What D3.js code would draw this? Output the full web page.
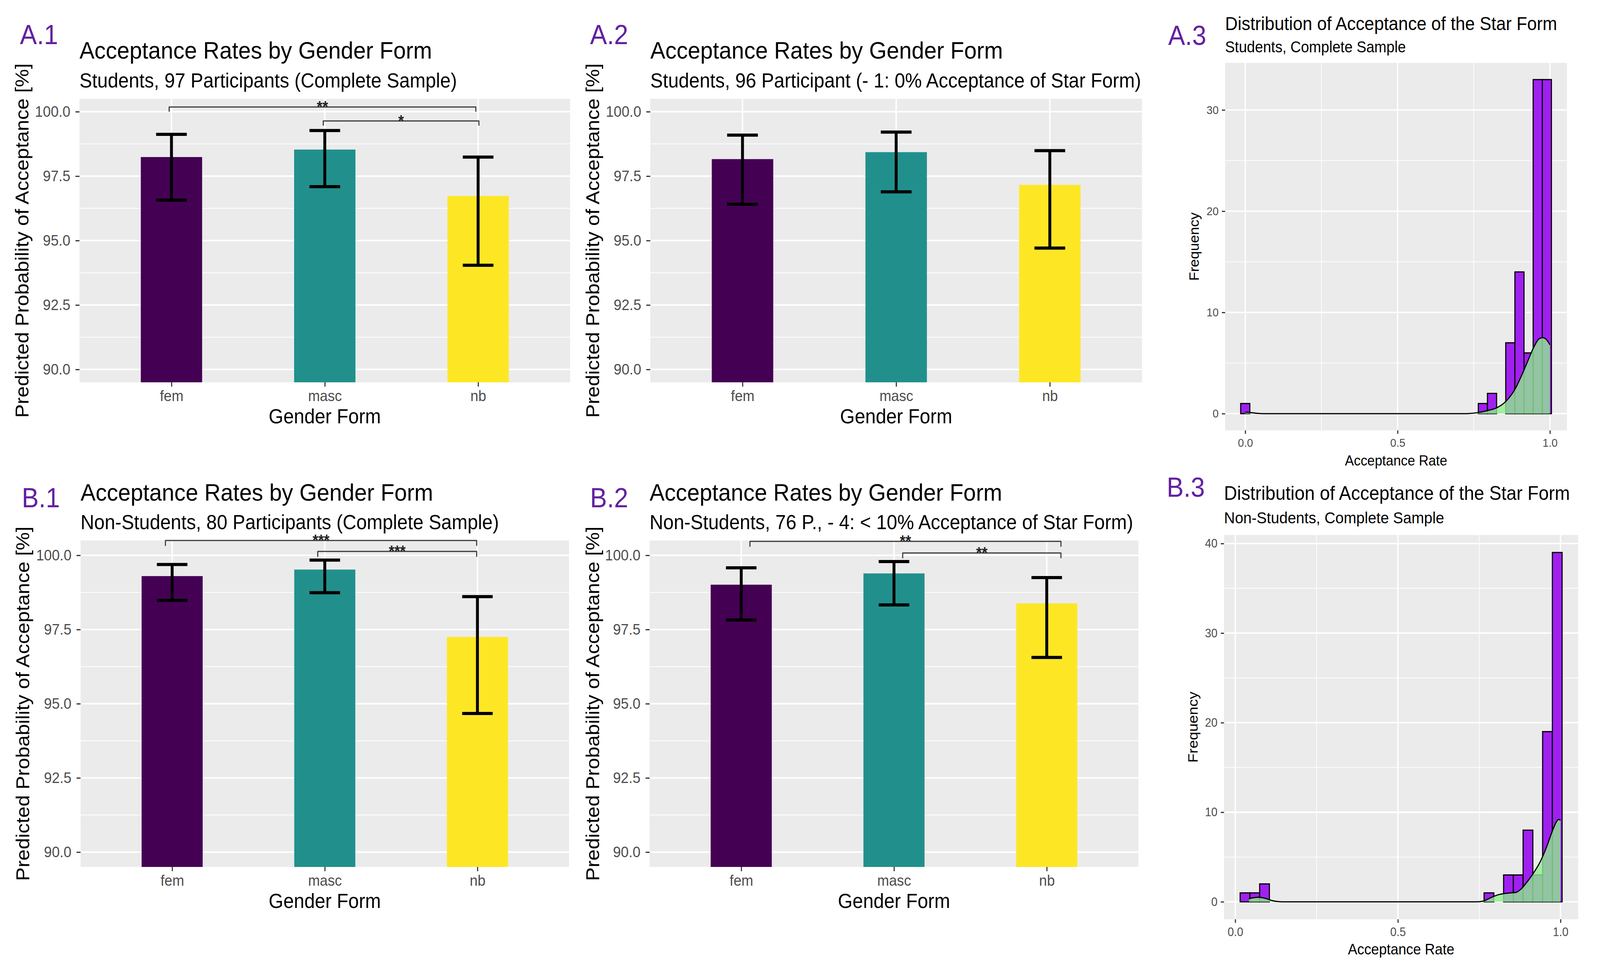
<!DOCTYPE html>
<meta charset="utf-8">
<style>
  html, body { margin: 0; padding: 0; overflow: hidden; background: #fff; }
  svg { display: block; width: 100vw; height: 100vh; }
  svg text { font-family: "Liberation Sans", Arial, sans-serif; }
</style>
<body>
<script src="https://cdn.jsdelivr.net/npm/d3@7/dist/d3.min.js"></script>
<script>
  // ---------- data ----------
  var genderForms = ["fem", "masc", "nb"];
  var barTicks = [90, 92.5, 95, 97.5, 100];

  // A.1 students, complete sample
  var a1Rate = [98.24, 98.53, 96.73];
  var a1Low  = [96.57, 97.09, 94.04];
  var a1High = [99.12, 99.27, 98.24];
  var a1Signif = [
    {from: 0.985, to: 2.985, y: 100.18, label: "**"},
    {from: 1.99,  to: 3.005, y: 99.64,  label: "*"}
  ];

  // A.2 students without the 0% participant
  var a2Rate = [98.16, 98.43, 97.16];
  var a2Low  = [96.41, 96.89, 94.71];
  var a2High = [99.09, 99.21, 98.49];

  // B.1 non-students, complete sample
  var b1Rate = [99.30, 99.52, 97.25];
  var b1Low  = [98.48, 98.74, 94.67];
  var b1High = [99.69, 99.84, 98.61];
  var b1Signif = [
    {from: 0.956, to: 2.995, y: 100.50, label: "***"},
    {from: 1.954, to: 2.995, y: 100.13, label: "***"}
  ];

  // B.2 non-students, reduced sample
  var b2Rate = [99.01, 99.39, 98.38];
  var b2Low  = [97.82, 98.33, 96.56];
  var b2High = [99.58, 99.79, 99.25];
  var b2Signif = [
    {from: 1.057, to: 3.093, y: 100.47, label: "**"},
    {from: 2.057, to: 3.093, y: 100.08, label: "**"}
  ];

  // histograms (bin centres, counts) and density curves
  var binWidth = 0.03;
  var rateTicks = [0, 0.5, 1];

  var a3Bins   = [0, 0.78, 0.81, 0.87, 0.90, 0.93, 0.96, 0.99];
  var a3Counts = [1, 1, 2, 7, 14, 6, 33, 33];
  var a3FreqTicks = [0, 10, 20, 30];
  var a3Density = [
    [0, 0.15], [0.02, 0.1], [0.04, 0.03], [0.06, 0], [0.72, 0], [0.736, 0.02],
    [0.763, 0.1], [0.795, 0.3], [0.827, 0.6], [0.855, 1.2], [0.887, 2.5],
    [0.906, 3.7], [0.926, 5.1], [0.946, 6.5], [0.965, 7.4], [0.977, 7.5],
    [0.989, 7.3], [1.0, 6.8]
  ];

  var b3Bins   = [0.03, 0.06, 0.09, 0.78, 0.84, 0.87, 0.90, 0.93, 0.96, 0.99];
  var b3Counts = [1, 1, 2, 1, 3, 3, 8, 3, 19, 39];
  var b3FreqTicks = [0, 10, 20, 30, 40];
  var b3Density = [
    [0.042, 0.35], [0.055, 0.45], [0.07, 0.5], [0.085, 0.45], [0.10, 0.3],
    [0.115, 0.12], [0.13, 0.03], [0.145, 0], [0.74, 0], [0.761, 0.07],
    [0.788, 0.5], [0.81, 0.8], [0.833, 0.95], [0.848, 1.0], [0.863, 1.05],
    [0.878, 1.4], [0.897, 2.2], [0.915, 3.1], [0.938, 4.5], [0.957, 6.1],
    [0.976, 8.0], [0.987, 8.9], [0.994, 9.2], [1.0, 9.1]
  ];

  var viridis3 = d3.scaleOrdinal().domain(genderForms).range(["#440154", "#21908C", "#FDE725"]);

  // ---------- drawing ----------
  // drawn in the 4409x2489 frame, stretched to whatever the window really is
  var svg = d3.select("body").append("svg")
    .attr("viewBox", "0 0 4409 2489")
    .attr("preserveAspectRatio", "none");
  svg.append("rect").attr("width", 4409).attr("height", 2489).attr("fill", "#fff");

  function text(g, x, y, str, size, anchor, fill) {
    return g.append("text")
      .attr("x", x).attr("y", y)
      .attr("font-size", size)
      .attr("text-anchor", anchor || "start")
      .attr("fill", fill || "#000")
      .text(str);
  }

  function panelLetter(x, y, str) {
    svg.append("text")
      .attr("x", x).attr("y", y)
      .attr("font-size", 70)
      .attr("font-family", "Lato, 'Open Sans', sans-serif")
      .attr("fill", "#6420a0")
      .text(str);
  }

  function styleAxis(ax, size) {
    ax.select(".domain").remove();
    ax.attr("font-family", "'Liberation Sans', Arial, sans-serif").attr("font-size", size);
    ax.selectAll(".tick line").attr("stroke", "#333").attr("stroke-width", 3);
    ax.selectAll(".tick text").attr("fill", "#4d4d4d");
  }

  function barPanel(p) {
    var g = svg.append("g");
    var x = d3.scalePoint().domain(genderForms).range([p.left, p.right]).padding(0.6);
    var xu = d3.scaleLinear().domain([0.4, 3.6]).range([p.left, p.right]);
    var y = d3.scaleLinear().domain([89.5, 100.5]).range([p.bottom, p.top]);
    var step = x.step();

    g.append("rect")
      .attr("x", p.left).attr("y", p.top)
      .attr("width", p.right - p.left).attr("height", p.bottom - p.top)
      .attr("fill", "#ebebeb");

    var minor = d3.pairs(barTicks).map(function (d) { return (d[0] + d[1]) / 2; });
    g.selectAll(".minor").data(minor).enter().append("line")
      .attr("x1", p.left).attr("x2", p.right)
      .attr("y1", y).attr("y2", y)
      .attr("stroke", "#fff").attr("stroke-width", 2);
    g.selectAll(".major").data(barTicks).enter().append("line")
      .attr("x1", p.left).attr("x2", p.right)
      .attr("y1", y).attr("y2", y)
      .attr("stroke", "#fff").attr("stroke-width", 4);
    g.selectAll(".vgrid").data(genderForms).enter().append("line")
      .attr("x1", x).attr("x2", x)
      .attr("y1", p.top).attr("y2", p.bottom)
      .attr("stroke", "#fff").attr("stroke-width", 4);

    // bars start at the bottom of the (zoomed) panel
    g.selectAll(".bar").data(genderForms).enter().append("rect")
      .attr("x", function (d) { return x(d) - step * 0.2; })
      .attr("width", step * 0.4)
      .attr("y", function (d, i) { return y(p.rate[i]); })
      .attr("height", function (d, i) { return p.bottom - y(p.rate[i]); })
      .attr("fill", viridis3);

    // error bars
    var eb = g.selectAll(".err").data(genderForms).enter().append("g")
      .attr("stroke", "#000").attr("stroke-width", 8).attr("fill", "none");
    eb.append("line")
      .attr("x1", x).attr("x2", x)
      .attr("y1", function (d, i) { return y(p.low[i]); })
      .attr("y2", function (d, i) { return y(p.high[i]); });
    eb.append("line")
      .attr("x1", function (d) { return x(d) - step * 0.1; })
      .attr("x2", function (d) { return x(d) + step * 0.1; })
      .attr("y1", function (d, i) { return y(p.high[i]); })
      .attr("y2", function (d, i) { return y(p.high[i]); });
    eb.append("line")
      .attr("x1", function (d) { return x(d) - step * 0.1; })
      .attr("x2", function (d) { return x(d) + step * 0.1; })
      .attr("y1", function (d, i) { return y(p.low[i]); })
      .attr("y2", function (d, i) { return y(p.low[i]); });

    // significance brackets
    var tip = 0.18;
    (p.signif || []).forEach(function (s) {
      var pts = [[s.from, s.y - tip], [s.from, s.y], [s.to, s.y], [s.to, s.y - tip]];
      g.append("path")
        .attr("d", d3.line().x(function (d) { return xu(d[0]); }).y(function (d) { return y(d[1]); })(pts))
        .attr("fill", "none").attr("stroke", "#3a3a3a").attr("stroke-width", 3)
        .attr("stroke-linejoin", "round");
      text(g, xu((s.from + s.to) / 2), y(s.y) + 13, s.label, 40, "middle", "#222")
        .attr("font-weight", "bold");
    });

    var ay = g.append("g").attr("transform", "translate(" + p.left + ",0)")
      .call(d3.axisLeft(y).tickValues(barTicks).tickFormat(d3.format(".1f")).tickSize(11).tickPadding(14));
    styleAxis(ay, 39);
    var ax = g.append("g").attr("transform", "translate(0," + p.bottom + ")")
      .call(d3.axisBottom(x).tickSize(11).tickPadding(9));
    styleAxis(ax, 39);

    text(g, p.left, p.titleY, "Acceptance Rates by Gender Form", 62);
    text(g, p.left, p.subY, p.subtitle, 52);
    text(g, (p.left + p.right) / 2, p.bottom + 105, "Gender Form", 52, "middle");
    g.append("text")
      .attr("transform", "translate(" + p.yTitleX + "," + (p.top + p.bottom) / 2 + ") rotate(-90)")
      .attr("text-anchor", "middle").attr("font-size", 52)
      .text("Predicted Probability of Acceptance [%]");

    panelLetter(p.letterX, p.letterY, p.letter);
  }

  function histPanel(p) {
    var g = svg.append("g");
    var lo = d3.min(p.bins) - binWidth / 2, hi = d3.max(p.bins) + binWidth / 2;
    var padX = (hi - lo) * 0.05, maxC = d3.max(p.counts), padY = maxC * 0.05;
    var x = d3.scaleLinear().domain([lo - padX, hi + padX]).range([p.left, p.right]);
    var y = d3.scaleLinear().domain([-padY, maxC + padY]).range([p.bottom, p.top]);

    g.append("rect")
      .attr("x", p.left).attr("y", p.top)
      .attr("width", p.right - p.left).attr("height", p.bottom - p.top)
      .attr("fill", "#ebebeb");

    var minorY = d3.pairs(p.freqTicks).map(function (d) { return (d[0] + d[1]) / 2; });
    var minorX = d3.pairs(rateTicks).map(function (d) { return (d[0] + d[1]) / 2; });
    g.selectAll(".mny").data(minorY).enter().append("line")
      .attr("x1", p.left).attr("x2", p.right).attr("y1", y).attr("y2", y)
      .attr("stroke", "#fff").attr("stroke-width", 1.8);
    g.selectAll(".mnx").data(minorX).enter().append("line")
      .attr("y1", p.top).attr("y2", p.bottom).attr("x1", x).attr("x2", x)
      .attr("stroke", "#fff").attr("stroke-width", 1.8);
    g.selectAll(".mjy").data(p.freqTicks).enter().append("line")
      .attr("x1", p.left).attr("x2", p.right).attr("y1", y).attr("y2", y)
      .attr("stroke", "#fff").attr("stroke-width", 3.6);
    g.selectAll(".mjx").data(rateTicks).enter().append("line")
      .attr("y1", p.top).attr("y2", p.bottom).attr("x1", x).attr("x2", x)
      .attr("stroke", "#fff").attr("stroke-width", 3.6);

    g.selectAll(".bin").data(p.bins).enter().append("rect")
      .attr("x", function (d) { return x(d - binWidth / 2); })
      .attr("width", function (d) { return x(d + binWidth / 2) - x(d - binWidth / 2); })
      .attr("y", function (d, i) { return y(p.counts[i]); })
      .attr("height", function (d, i) { return y(0) - y(p.counts[i]); })
      .attr("fill", "#a020f0").attr("stroke", "#000").attr("stroke-width", 3);

    var area = d3.area().curve(d3.curveMonotoneX)
      .x(function (d) { return x(d[0]); }).y0(y(0)).y1(function (d) { return y(d[1]); });
    var line = d3.line().curve(d3.curveMonotoneX)
      .x(function (d) { return x(d[0]); }).y(function (d) { return y(d[1]); });
    g.append("path").attr("d", area(p.density)).attr("fill", "#90ee90").attr("fill-opacity", 0.8);
    g.append("path").attr("d", line(p.density)).attr("fill", "none").attr("stroke", "#000").attr("stroke-width", 3);

    var ay = g.append("g").attr("transform", "translate(" + p.left + ",0)")
      .call(d3.axisLeft(y).tickValues(p.freqTicks).tickSize(9).tickPadding(9));
    styleAxis(ay, p.tick);
    var ax = g.append("g").attr("transform", "translate(0," + p.bottom + ")")
      .call(d3.axisBottom(x).tickValues(rateTicks).tickFormat(d3.format(".1f")).tickSize(9).tickPadding(12));
    styleAxis(ax, p.tick);

    text(g, p.left, p.titleY, "Distribution of Acceptance of the Star Form", p.titleSize);
    text(g, p.left, p.subY, p.subtitle, p.subSize);
    text(g, (p.left + p.right) / 2, p.bottom + 90, "Acceptance Rate", p.axisSize, "middle");
    g.append("text")
      .attr("transform", "translate(" + p.yTitleX + "," + (p.top + p.bottom) / 2 + ") rotate(-90)")
      .attr("text-anchor", "middle").attr("font-size", p.axisSize)
      .text("Frequency");

    panelLetter(p.letterX, p.letterY, p.letter);
  }

  barPanel({
    left: 219, right: 1571, top: 253, bottom: 979, titleY: 150, subY: 224, yTitleX: 79,
    rate: a1Rate, low: a1Low, high: a1High, signif: a1Signif,
    subtitle: "Students, 97 Participants (Complete Sample)",
    letter: "A.1", letterX: 55, letterY: 113
  });
  barPanel({
    left: 1792, right: 3147, top: 253, bottom: 979, titleY: 150, subY: 224, yTitleX: 1651,
    rate: a2Rate, low: a2Low, high: a2High,
    subtitle: "Students, 96 Participant (- 1: 0% Acceptance of Star Form)",
    letter: "A.2", letterX: 1626, letterY: 113
  });
  barPanel({
    left: 222, right: 1568, top: 1384, bottom: 2220, titleY: 1282, subY: 1355, yTitleX: 81,
    rate: b1Rate, low: b1Low, high: b1High, signif: b1Signif,
    subtitle: "Non-Students, 80 Participants (Complete Sample)",
    letter: "B.1", letterX: 60, letterY: 1299
  });
  barPanel({
    left: 1790, right: 3137, top: 1384, bottom: 2220, titleY: 1282, subY: 1355, yTitleX: 1651,
    rate: b2Rate, low: b2Low, high: b2High, signif: b2Signif,
    subtitle: "Non-Students, 76 P., - 4: < 10% Acceptance of Star Form)",
    letter: "B.2", letterX: 1626, letterY: 1299
  });

  histPanel({
    left: 3376, right: 4318, top: 161, bottom: 1102, titleY: 77, subY: 134, yTitleX: 3304,
    bins: a3Bins, counts: a3Counts, density: a3Density, freqTicks: a3FreqTicks,
    titleSize: 48, subSize: 40, axisSize: 37, tick: 30,
    subtitle: "Students, Complete Sample",
    letter: "A.3", letterX: 3219, letterY: 115
  });
  histPanel({
    left: 3373, right: 4349, top: 1370, bottom: 2354, titleY: 1280, subY: 1340, yTitleX: 3300,
    bins: b3Bins, counts: b3Counts, density: b3Density, freqTicks: b3FreqTicks,
    titleSize: 50, subSize: 41.5, axisSize: 38.5, tick: 31,
    subtitle: "Non-Students, Complete Sample",
    letter: "B.3", letterX: 3215, letterY: 1272
  });
</script>
</body>
